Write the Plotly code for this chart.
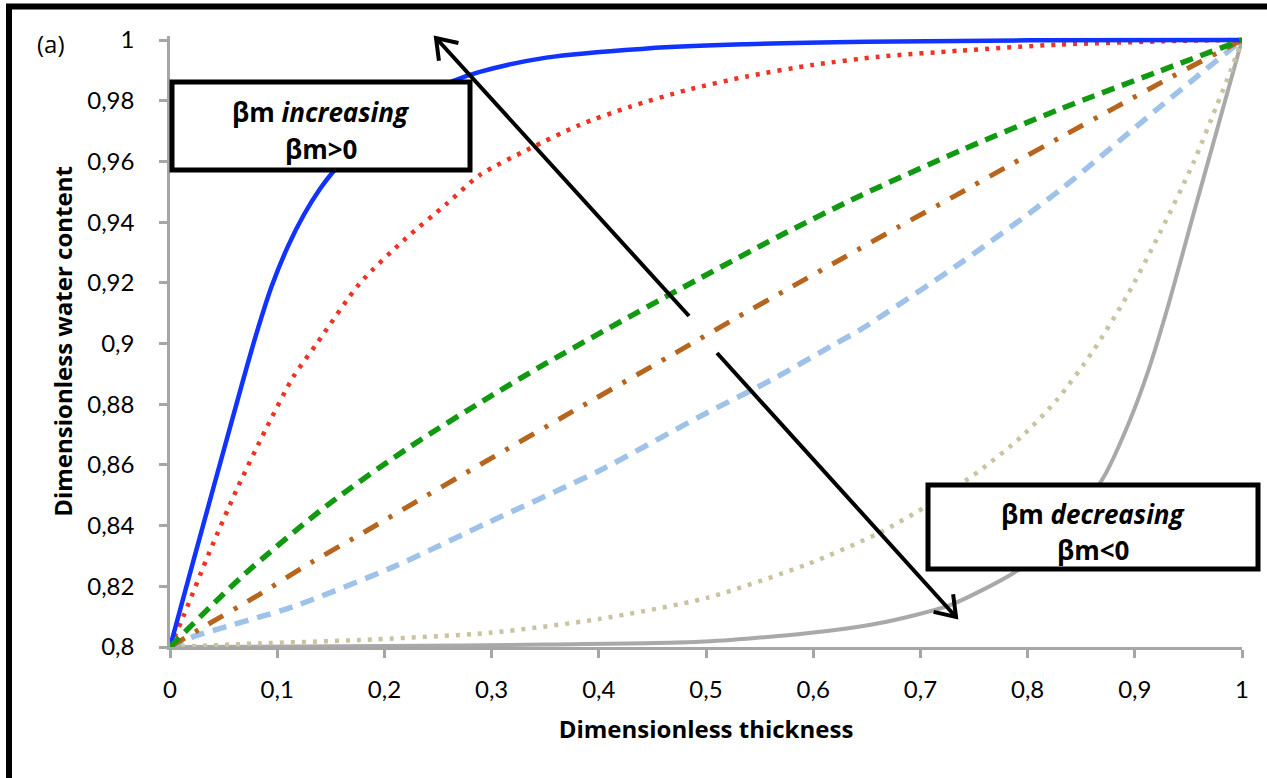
import math
import plotly.graph_objects as go

# ---- profiles: dimensionless water content vs dimensionless thickness ----
blue_x = [0, 0.022, 0.06, 0.08, 0.095, 0.11, 0.125, 0.14, 0.152, 0.17, 0.19, 0.23, 0.264, 0.289, 0.351, 0.445, 0.538, 0.65, 0.8, 1.0]
blue_y = [0.8, 0.8286, 0.8775, 0.9025, 0.919, 0.932, 0.9425, 0.951, 0.9565, 0.9635, 0.970, 0.9805, 0.9865, 0.9895, 0.9942, 0.9972, 0.9986, 0.9994, 0.9999, 1.0]

red_x = [0, 0.01, 0.037, 0.062, 0.089, 0.115, 0.137, 0.177, 0.218, 0.258, 0.289, 0.336, 0.382, 0.429, 0.482, 0.538, 0.6, 0.662, 0.737, 0.83, 0.954, 1.0]
red_y = [0.8, 0.808, 0.8314, 0.8517, 0.8715, 0.889, 0.900, 0.9198, 0.934, 0.946, 0.9555, 0.9643, 0.972, 0.978, 0.9835, 0.988, 0.9918, 0.9945, 0.9965, 0.9985, 0.9998, 1.0]

green_x = [0, 0.068, 0.146, 0.224, 0.2985, 0.351, 0.463, 0.569, 0.644, 0.737, 0.83, 0.9235, 1.0]
green_y = [0.8, 0.8235, 0.8465, 0.866, 0.8825, 0.8935, 0.9155, 0.9355, 0.9487, 0.9635, 0.9772, 0.9898, 1.0]

brown_x = [0, 0.0326, 0.0824, 0.1315, 0.181, 0.2307, 0.2805, 0.38, 0.4804, 0.530, 0.580, 0.630, 0.680, 0.731, 0.781, 0.8315, 0.882, 0.932, 1.0]
brown_y = [0.8, 0.8069, 0.8171, 0.8278, 0.8378, 0.8481, 0.8583, 0.8785, 0.8987, 0.9088, 0.9187, 0.9286, 0.9385, 0.9484, 0.9583, 0.9681, 0.9778, 0.9874, 1.0]

lightblue_x = [0, 0.0218, 0.115, 0.2083, 0.2985, 0.4, 0.494, 0.561, 0.621, 0.6437, 0.737, 0.83, 0.9235, 1.0]
lightblue_y = [0.8, 0.8034, 0.8133, 0.8264, 0.8413, 0.858, 0.8759, 0.888, 0.900, 0.9045, 0.9264, 0.9505, 0.978, 1.0]

tan_x = [0, 0.084, 0.177, 0.2985, 0.4, 0.501, 0.594, 0.661, 0.7076, 0.754, 0.794, 0.8275, 0.861, 0.8924, 0.9235, 0.9546, 0.976, 0.989, 1.0]
tan_y = [0.8, 0.8012, 0.8023, 0.8047, 0.8092, 0.8162, 0.8272, 0.8375, 0.8468, 0.8578, 0.8692, 0.8815, 0.8975, 0.9155, 0.9365, 0.9595, 0.978, 0.9895, 1.0]

gray_x = [0, 0.2, 0.35, 0.494, 0.594, 0.661, 0.7276, 0.787, 0.83, 0.871, 0.894, 0.913, 0.932, 0.9546, 0.976, 1.0]
gray_y = [0.8, 0.8003, 0.8008, 0.8017, 0.8045, 0.8078, 0.8138, 0.8244, 0.8355, 0.856, 0.8735, 0.8915, 0.9135, 0.9425, 0.9695, 1.0]

x_tick_vals = [0, 0.1, 0.2, 0.3, 0.4, 0.5, 0.6, 0.7, 0.8, 0.9, 1]
x_tick_text = ["0", "0,1", "0,2", "0,3", "0,4", "0,5", "0,6", "0,7", "0,8", "0,9", "1"]
y_tick_vals = [0.8, 0.82, 0.84, 0.86, 0.88, 0.9, 0.92, 0.94, 0.96, 0.98, 1]
y_tick_text = ["0,8", "0,82", "0,84", "0,86", "0,88", "0,9", "0,92", "0,94", "0,96", "0,98", "1"]

W, H = 1267, 778
L, R, T, B = 170, 25, 36, 131
Y_TOP = 1.0 + 4 / 3035.0


def pxx(p):
    return (p - L) / (W - L - R)


def pxy(p):
    return (H - B - p) / (H - T - B)


TICK_FONT = "Lato, sans-serif"
TEXT_FONT = "'Open Sans', sans-serif"

fig = go.Figure()

series = [
    (gray_x, gray_y, "#A9A9A9", 4, "solid", 0.7),
    (tan_x, tan_y, "#C9C3A0", 4.5, "4px,7px", 0.7),
    (lightblue_x, lightblue_y, "#9EC2E8", 5.5, "14px,9px", 0.7),
    (brown_x, brown_y, "#B5651D", 5, "17px,12px,4px,12px", 0.7),
    (red_x, red_y, "#EE3322", 4.5, "4px,7px", 0.7),
    (blue_x, blue_y, "#1133FF", 4.5, "solid", 1.0),
    (green_x, green_y, "#119911", 5.5, "13px,8px", 0.8),
]
for xs, ys, col, w, dash, sm in series:
    fig.add_trace(go.Scatter(
        x=xs, y=ys, mode="lines",
        line=dict(color=col, width=w, dash=dash, shape="spline", smoothing=sm),
        showlegend=False, hoverinfo="skip",
    ))

shapes = []
# outer frame (left and top edges visible)
shapes.append(dict(type="rect", xref="paper", yref="paper",
                   x0=pxx(9), x1=pxx(1290), y0=pxy(800), y1=pxy(6.5),
                   line=dict(color="black", width=6), fillcolor="rgba(0,0,0,0)", layer="above"))

# label boxes
for (x0, x1, y0, y1) in [(172, 470, 82, 170), (928, 1258, 485, 569)]:
    shapes.append(dict(type="rect", xref="paper", yref="paper",
                       x0=pxx(x0), x1=pxx(x1), y0=pxy(y1), y1=pxy(y0),
                       line=dict(color="black", width=5), fillcolor="white", layer="above"))


def arrow(tail, tip, head=23, ang=35):
    dx, dy = tip[0] - tail[0], tip[1] - tail[1]
    n = math.hypot(dx, dy)
    bx, by = -dx / n, -dy / n
    pts = []
    for s in (1, -1):
        a = math.radians(ang) * s
        rx = bx * math.cos(a) - by * math.sin(a)
        ry = bx * math.sin(a) + by * math.cos(a)
        pts.append((tip[0] + head * rx, tip[1] + head * ry))
    out = [dict(type="line", xref="paper", yref="paper",
                x0=pxx(tail[0]), y0=pxy(tail[1]), x1=pxx(tip[0]), y1=pxy(tip[1]),
                line=dict(color="black", width=4), layer="above")]
    path = "M {} {} L {} {} L {} {}".format(
        pxx(pts[0][0]), pxy(pts[0][1]), pxx(tip[0]), pxy(tip[1]), pxx(pts[1][0]), pxy(pts[1][1]))
    out.append(dict(type="path", xref="paper", yref="paper", path=path,
                    line=dict(color="black", width=4), layer="above"))
    return out


shapes += arrow((689, 316), (436, 38))
shapes += arrow((717, 353), (956, 617))


def label(px, py, text, size):
    return dict(xref="paper", yref="paper", x=pxx(px), y=pxy(py), text=text,
                xanchor="center", yanchor="middle", showarrow=False,
                font=dict(family=TEXT_FONT, size=size, color="black"))


annotations = [
    label(321, 112, "<b>βm <i>increasing</i></b>", 26),
    label(321, 149, "<b>βm>0</b>", 26),
    label(1093, 514, "<b>βm <i>decreasing</i></b>", 26),
    label(1093, 550, "<b>βm<0</b>", 26),
    label(51, 44, "(a)", 24),
]

fig.update_layout(
    width=W, height=H,
    margin=dict(l=L, r=R, t=T, b=B, pad=0),
    paper_bgcolor="white", plot_bgcolor="white",
    shapes=shapes, annotations=annotations,
    font=dict(family=TICK_FONT, color="black"),
)
fig.update_xaxes(
    range=[0, 1], tickvals=x_tick_vals, ticktext=x_tick_text,
    showgrid=False, zeroline=False, showline=True, linecolor="#A6A6A6", linewidth=3,
    ticks="outside", ticklen=8, tickwidth=2.5, tickcolor="#A6A6A6",
    tickfont=dict(family=TICK_FONT, size=24, color="black"), ticklabelstandoff=11,
    title=dict(text="<b>Dimensionless thickness</b>", font=dict(family=TEXT_FONT, size=24, color="black"), standoff=20),
)
fig.update_yaxes(
    range=[0.8, Y_TOP], tickvals=y_tick_vals, ticktext=y_tick_text,
    showgrid=False, zeroline=False, showline=True, linecolor="#A6A6A6", linewidth=2.5,
    ticks="outside", ticklen=8, tickwidth=2.5, tickcolor="#A6A6A6",
    tickfont=dict(family=TICK_FONT, size=24, color="black"), ticklabelstandoff=20,
    title=dict(text="<b>Dimensionless water content</b>", font=dict(family=TEXT_FONT, size=24, color="black"), standoff=8),
)

fig.write_html("out.html")
